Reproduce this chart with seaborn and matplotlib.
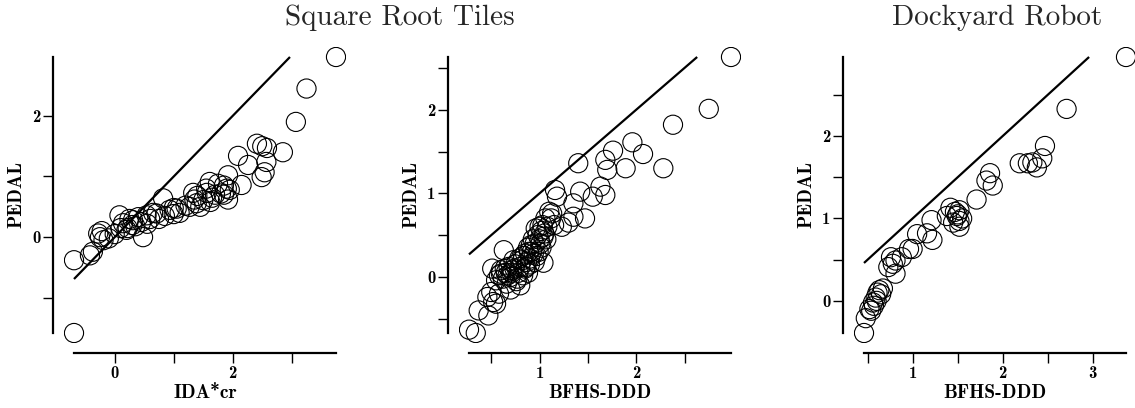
import numpy as np
import pandas as pd
import matplotlib
matplotlib.use("Agg")
import matplotlib.pyplot as plt
import seaborn as sns

# ---------------- data ----------------
p1_x = [3.75, 3.25, 3.07, -0.69, -0.69, 2.85, 2.41, 2.50, 2.58, 2.09, 2.26, 2.57, 2.54, 2.49,
        2.15, 1.92, 1.92, 1.90, 1.85, 1.95, 1.80, 1.75, 1.61, 1.56, 1.50, 1.65, 1.33, 1.39,
        1.27, 1.40, 1.45, 1.70, 1.05, 0.93, 1.10, 1.00, 0.82, 0.71, 0.85, 0.54, 0.48, 0.60,
        0.45, 0.31, 0.35, 0.14, 0.08, 0.20, 0.25, 0.40, 0.55, 0.65, -0.28, -0.19, -0.25, -0.10,
        0.00, -0.37, -0.42, 0.10, 1.20, 1.55, 1.85, 1.00, 0.75, -0.22, 0.30, 0.22, 1.35, 1.62]
p1_y = [2.97, 2.45, 1.90, -0.38, -1.58, 1.40, 1.54, 1.50, 1.47, 1.34, 1.19, 1.24, 1.07, 0.99,
        0.86, 1.02, 0.62, 0.80, 0.85, 0.78, 0.72, 0.88, 0.91, 0.73, 0.61, 0.65, 0.73, 0.56,
        0.50, 0.68, 0.50, 0.70, 0.47, 0.45, 0.40, 0.38, 0.64, 0.39, 0.35, 0.36, 0.00, 0.30,
        0.25, 0.28, 0.18, 0.23, 0.36, 0.12, 0.30, 0.33, 0.22, 0.40, 0.06, -0.05, 0.00, -0.02,
        0.05, -0.24, -0.30, 0.15, 0.52, 0.80, 0.70, 0.48, 0.30, 0.10, 0.20, 0.15, 0.62, 0.58]

p2_x = [2.98, 2.75, 2.38, 2.28, 2.07, 1.96, 1.89, 1.76, 1.68, 1.70, 1.63, 1.68, 1.55, 1.40,
        1.42, 1.35, 1.47, 1.35, 1.30, 1.23, 1.16, 1.18, 1.13, 1.10, 1.06, 1.04, 1.15, 1.08,
        1.00, 1.02, 0.98, 1.05, 1.00, 0.95, 1.02, 0.92, 0.97, 0.90, 0.88, 0.85, 0.82, 0.80,
        0.85, 0.78, 0.75, 0.72, 0.70, 0.68, 0.65, 0.62, 0.60, 0.58, 0.76, 0.80, 0.70, 0.66,
        0.93, 1.07, 1.03, 0.90, 0.95, 0.88, 0.63, 0.55, 0.51, 0.46, 0.47, 0.37, 0.27, 0.34,
        0.52, 0.55, 0.50, 0.58, 1.01, 0.99, 0.94, 0.91, 0.87, 0.83, 0.79, 0.74, 0.71, 0.67,
        0.64, 0.60, 0.73, 0.86, 1.04, 0.96, 0.83, 0.77, 1.12, 0.89]
p2_y = [2.63, 2.01, 1.82, 1.30, 1.47, 1.61, 1.30, 1.51, 1.40, 1.28, 1.08, 0.98, 0.96, 1.36,
        1.02, 0.88, 0.70, 0.72, 0.65, 0.60, 1.04, 0.96, 0.76, 0.78, 0.70, 0.17, 0.62, 0.60,
        0.60, 0.55, 0.50, 0.52, 0.45, 0.40, 0.35, 0.30, 0.25, 0.22, 0.35, 0.28, 0.20, 0.12,
        0.10, 0.05, 0.15, 0.08, 0.00, 0.12, 0.05, -0.02, 0.08, 0.02, -0.05, -0.10, -0.15, -0.08,
        0.45, 0.45, 0.62, 0.15, 0.18, 0.05, 0.32, -0.04, 0.10, -0.24, -0.46, -0.40, -0.63, -0.67,
        -0.30, -0.32, -0.18, -0.20, 0.40, 0.30, 0.28, 0.38, 0.18, 0.25, 0.22, 0.10, 0.05, 0.02,
        0.10, 0.04, 0.20, 0.12, 0.48, 0.58, 0.02, -0.02, 0.70, 0.30]

p3_x = [3.37, 2.71, 2.47, 2.44, 2.38, 2.33, 2.28, 2.19, 1.86, 1.82, 1.89, 1.71, 1.42, 1.52,
        1.49, 1.52, 1.52, 1.38, 1.47, 1.21, 1.16, 1.22, 1.05, 1.00, 0.96, 0.88, 0.81, 0.76,
        0.73, 0.81, 0.67, 0.61, 0.59, 0.56, 0.52, 0.48, 0.46, 0.63, 0.57, 1.50, 1.45, 0.65,
        0.60, 0.54, 1.55, 0.78]
p3_y = [2.96, 2.33, 1.88, 1.73, 1.62, 1.68, 1.67, 1.67, 1.55, 1.46, 1.40, 1.23, 1.13, 1.10,
        1.03, 0.97, 0.90, 1.03, 1.08, 0.98, 0.82, 0.74, 0.81, 0.63, 0.63, 0.53, 0.49, 0.53,
        0.41, 0.33, 0.15, 0.10, 0.04, -0.02, -0.10, -0.21, -0.39, 0.13, -0.06, 1.05, 0.95, 0.08,
        0.00, -0.12, 1.00, 0.45]

x_labels = ["IDA*cr", "BFHS-DDD", "BFHS-DDD"]
y_label = "PEDAL"
titles = ["Square Root Tiles", "Dockyard Robot"]

x_ticks = [[0, 1, 2, 3], [0.5, 1, 1.5, 2, 2.5], [0.5, 1, 1.5, 2, 2.5, 3]]
x_ticklabels = [["0", "", "2", ""], ["", "1", "", "2", ""], ["", "1", "", "2", "", "3"]]
y_ticks = [[-1, 0, 1, 2], [-0.5, 0, 0.5, 1, 1.5, 2, 2.5], [0, 0.5, 1, 1.5, 2, 2.5]]
y_ticklabels = [["", "0", "", "2"], ["", "0", "", "1", "", "2", ""], ["0", "", "1", "", "2", ""]]

# ---------------- style ----------------
sns.set_theme(style="ticks")
plt.rcParams["font.family"] = ["cmr10", "DejaVu Serif"]
plt.rcParams["axes.unicode_minus"] = False
plt.rcParams["axes.formatter.use_mathtext"] = True

W, H = 1135, 408
fig = plt.figure(figsize=(W / 100, H / 100), dpi=100)

panels = [(p1_x, p1_y), (p2_x, p2_y), (p3_x, p3_y)]
lefts_px = [64, 459, 854]
ax_w_px, ax_h_px = 282, 296
ax_bottom_px = 343

for i, (xs, ys) in enumerate(panels):
    ax = fig.add_axes([lefts_px[i] / W, (H - ax_bottom_px) / H, ax_w_px / W, ax_h_px / H])
    df = pd.DataFrame({"x": xs, "y": ys})
    sns.scatterplot(data=df, x="x", y="y", ax=ax, s=190, marker="o",
                    facecolor="none", edgecolor="black", linewidth=0.8, legend=False)
    lo = max(df.x.min(), df.y.min())
    hi = min(df.x.max(), df.y.max())
    ax.plot([lo, hi], [lo, hi], color="black", lw=1.6, solid_capstyle="butt")

    ax.margins(x=10 / 262, y=10 / 276)
    for s in ["top", "right"]:
        ax.spines[s].set_visible(False)
    ax.spines["left"].set_position(("outward", 8))
    ax.spines["bottom"].set_position(("outward", 7.5))
    ax.spines["left"].set_bounds(df.y.min(), df.y.max())
    ax.spines["bottom"].set_bounds(df.x.min(), df.x.max())
    for s in ["left", "bottom"]:
        ax.spines[s].set_linewidth(1.6)
        ax.spines[s].set_color("black")

    ax.set_xticks(x_ticks[i])
    ax.set_xticklabels(x_ticklabels[i], fontfamily="cmb10", fontsize=12)
    ax.set_yticks(y_ticks[i])
    ax.set_yticklabels(y_ticklabels[i], fontfamily="cmb10", fontsize=12)
    ax.tick_params(axis="both", direction="out", length=7, width=1.0, color="black",
                   pad=2, labelcolor="black")
    ax.set_xlabel(x_labels[i], fontfamily="cmb10", fontsize=14, labelpad=2, color="black")
    ax.set_ylabel(y_label, fontfamily="cmb10", fontsize=14, labelpad=5, color="black")
    ax.set_facecolor("none")
    ax.grid(False)

fig.text(400 / W, 1 - 25 / H, titles[0], ha="center", va="baseline",
         fontfamily="cmr10", fontsize=21)
fig.text(997 / W, 1 - 25 / H, titles[1], ha="center", va="baseline",
         fontfamily="cmr10", fontsize=21)

fig.savefig("out.png", dpi=100)
